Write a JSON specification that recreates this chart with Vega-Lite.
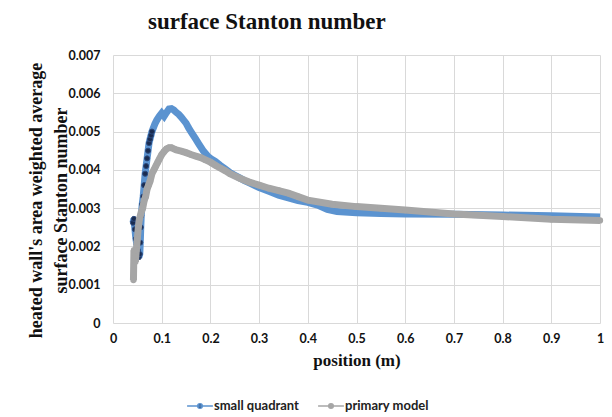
{
  "$schema": "https://vega.github.io/schema/vega-lite/v6.json",
  "autosize": "none",
  "width": 487,
  "height": 268,
  "padding": {"left": 113, "top": 55, "right": 12, "bottom": 94},
  "background": "white",
  "title": {
    "text": "surface Stanton number",
    "font": "Liberation Serif",
    "fontSize": 23,
    "fontWeight": "bold",
    "color": "#111111",
    "anchor": "start",
    "frame": "group",
    "dx": 35,
    "offset": 15
  },
  "config": {
    "view": {"stroke": null},
    "axis": {
      "gridColor": "#d9d9d9",
      "gridWidth": 1,
      "domain": false,
      "ticks": false,
      "labelFont": "Lato",
      "labelFontSize": 12.5,
      "labelFontWeight": "bold",
      "labelColor": "#111111",
      "titleFont": "Liberation Serif",
      "titleFontWeight": "bold",
      "titleColor": "#111111"
    }
  },
  "datasets": {
    "pts": [
      {"series": "small quadrant", "position": 0.041, "st": 0.00262},
      {"series": "small quadrant", "position": 0.043, "st": 0.00272},
      {"series": "small quadrant", "position": 0.045, "st": 0.00245},
      {"series": "small quadrant", "position": 0.047, "st": 0.0022},
      {"series": "small quadrant", "position": 0.049, "st": 0.00205},
      {"series": "small quadrant", "position": 0.051, "st": 0.0019},
      {"series": "small quadrant", "position": 0.053, "st": 0.00172},
      {"series": "small quadrant", "position": 0.055, "st": 0.0018},
      {"series": "small quadrant", "position": 0.056, "st": 0.0021},
      {"series": "small quadrant", "position": 0.057, "st": 0.0025},
      {"series": "small quadrant", "position": 0.058, "st": 0.0028},
      {"series": "small quadrant", "position": 0.06, "st": 0.0031},
      {"series": "small quadrant", "position": 0.062, "st": 0.0033},
      {"series": "small quadrant", "position": 0.064, "st": 0.0036},
      {"series": "small quadrant", "position": 0.066, "st": 0.0039},
      {"series": "small quadrant", "position": 0.068, "st": 0.0041},
      {"series": "small quadrant", "position": 0.07, "st": 0.0043},
      {"series": "small quadrant", "position": 0.072, "st": 0.0045},
      {"series": "small quadrant", "position": 0.074, "st": 0.0047},
      {"series": "small quadrant", "position": 0.076, "st": 0.0048},
      {"series": "small quadrant", "position": 0.078, "st": 0.0049},
      {"series": "small quadrant", "position": 0.08, "st": 0.005},
      {"series": "small quadrant", "position": 0.083, "st": 0.0051},
      {"series": "small quadrant", "position": 0.086, "st": 0.0052},
      {"series": "small quadrant", "position": 0.09, "st": 0.0053},
      {"series": "small quadrant", "position": 0.095, "st": 0.0054},
      {"series": "small quadrant", "position": 0.1, "st": 0.00548},
      {"series": "small quadrant", "position": 0.105, "st": 0.0054},
      {"series": "small quadrant", "position": 0.11, "st": 0.0055},
      {"series": "small quadrant", "position": 0.115, "st": 0.00559},
      {"series": "small quadrant", "position": 0.12, "st": 0.0056},
      {"series": "small quadrant", "position": 0.125, "st": 0.00556},
      {"series": "small quadrant", "position": 0.13, "st": 0.0055},
      {"series": "small quadrant", "position": 0.135, "st": 0.00545},
      {"series": "small quadrant", "position": 0.14, "st": 0.00538},
      {"series": "small quadrant", "position": 0.145, "st": 0.0053},
      {"series": "small quadrant", "position": 0.15, "st": 0.00522},
      {"series": "small quadrant", "position": 0.155, "st": 0.0051},
      {"series": "small quadrant", "position": 0.16, "st": 0.005},
      {"series": "small quadrant", "position": 0.165, "st": 0.0049},
      {"series": "small quadrant", "position": 0.17, "st": 0.0048},
      {"series": "small quadrant", "position": 0.175, "st": 0.0047},
      {"series": "small quadrant", "position": 0.18, "st": 0.0046},
      {"series": "small quadrant", "position": 0.185, "st": 0.0045},
      {"series": "small quadrant", "position": 0.19, "st": 0.00443},
      {"series": "small quadrant", "position": 0.195, "st": 0.00435},
      {"series": "small quadrant", "position": 0.2, "st": 0.0043},
      {"series": "small quadrant", "position": 0.21, "st": 0.00422},
      {"series": "small quadrant", "position": 0.22, "st": 0.00412},
      {"series": "small quadrant", "position": 0.23, "st": 0.00403},
      {"series": "small quadrant", "position": 0.24, "st": 0.00393},
      {"series": "small quadrant", "position": 0.25, "st": 0.00386},
      {"series": "small quadrant", "position": 0.26, "st": 0.00379},
      {"series": "small quadrant", "position": 0.27, "st": 0.00372},
      {"series": "small quadrant", "position": 0.28, "st": 0.00366},
      {"series": "small quadrant", "position": 0.3, "st": 0.00354},
      {"series": "small quadrant", "position": 0.32, "st": 0.00344},
      {"series": "small quadrant", "position": 0.34, "st": 0.00334},
      {"series": "small quadrant", "position": 0.36, "st": 0.00327},
      {"series": "small quadrant", "position": 0.38, "st": 0.0032},
      {"series": "small quadrant", "position": 0.4, "st": 0.00315},
      {"series": "small quadrant", "position": 0.42, "st": 0.00308},
      {"series": "small quadrant", "position": 0.44, "st": 0.00297},
      {"series": "small quadrant", "position": 0.46, "st": 0.00291},
      {"series": "small quadrant", "position": 0.5, "st": 0.00288},
      {"series": "small quadrant", "position": 0.55, "st": 0.00286},
      {"series": "small quadrant", "position": 0.6, "st": 0.00285},
      {"series": "small quadrant", "position": 0.7, "st": 0.00284},
      {"series": "small quadrant", "position": 0.8, "st": 0.00282},
      {"series": "small quadrant", "position": 0.9, "st": 0.0028},
      {"series": "small quadrant", "position": 1.0, "st": 0.00277},
      {"series": "primary model", "position": 0.042, "st": 0.00112},
      {"series": "primary model", "position": 0.043, "st": 0.0019},
      {"series": "primary model", "position": 0.044, "st": 0.0017},
      {"series": "primary model", "position": 0.046, "st": 0.0016},
      {"series": "primary model", "position": 0.048, "st": 0.0019},
      {"series": "primary model", "position": 0.05, "st": 0.0022},
      {"series": "primary model", "position": 0.052, "st": 0.0025},
      {"series": "primary model", "position": 0.054, "st": 0.0027},
      {"series": "primary model", "position": 0.056, "st": 0.0028},
      {"series": "primary model", "position": 0.058, "st": 0.0029},
      {"series": "primary model", "position": 0.061, "st": 0.003},
      {"series": "primary model", "position": 0.064, "st": 0.0032},
      {"series": "primary model", "position": 0.067, "st": 0.0033},
      {"series": "primary model", "position": 0.07, "st": 0.0035},
      {"series": "primary model", "position": 0.073, "st": 0.0036},
      {"series": "primary model", "position": 0.076, "st": 0.0037},
      {"series": "primary model", "position": 0.08, "st": 0.0039},
      {"series": "primary model", "position": 0.084, "st": 0.004},
      {"series": "primary model", "position": 0.088, "st": 0.0041},
      {"series": "primary model", "position": 0.092, "st": 0.0042},
      {"series": "primary model", "position": 0.096, "st": 0.0043},
      {"series": "primary model", "position": 0.1, "st": 0.0044},
      {"series": "primary model", "position": 0.105, "st": 0.00448},
      {"series": "primary model", "position": 0.11, "st": 0.00455},
      {"series": "primary model", "position": 0.115, "st": 0.00458},
      {"series": "primary model", "position": 0.12, "st": 0.00458},
      {"series": "primary model", "position": 0.125, "st": 0.00455},
      {"series": "primary model", "position": 0.13, "st": 0.00452},
      {"series": "primary model", "position": 0.14, "st": 0.00449},
      {"series": "primary model", "position": 0.15, "st": 0.00445},
      {"series": "primary model", "position": 0.16, "st": 0.0044},
      {"series": "primary model", "position": 0.17, "st": 0.00436},
      {"series": "primary model", "position": 0.18, "st": 0.00432},
      {"series": "primary model", "position": 0.19, "st": 0.00426},
      {"series": "primary model", "position": 0.2, "st": 0.0042},
      {"series": "primary model", "position": 0.21, "st": 0.00412},
      {"series": "primary model", "position": 0.22, "st": 0.00405},
      {"series": "primary model", "position": 0.23, "st": 0.00398},
      {"series": "primary model", "position": 0.24, "st": 0.0039},
      {"series": "primary model", "position": 0.26, "st": 0.00378},
      {"series": "primary model", "position": 0.28, "st": 0.00368},
      {"series": "primary model", "position": 0.3, "st": 0.0036},
      {"series": "primary model", "position": 0.32, "st": 0.00352},
      {"series": "primary model", "position": 0.34, "st": 0.00346},
      {"series": "primary model", "position": 0.36, "st": 0.00339},
      {"series": "primary model", "position": 0.38, "st": 0.0033},
      {"series": "primary model", "position": 0.4, "st": 0.00321},
      {"series": "primary model", "position": 0.45, "st": 0.0031},
      {"series": "primary model", "position": 0.5, "st": 0.00304},
      {"series": "primary model", "position": 0.55, "st": 0.003},
      {"series": "primary model", "position": 0.6, "st": 0.00295},
      {"series": "primary model", "position": 0.7, "st": 0.00285},
      {"series": "primary model", "position": 0.8, "st": 0.00278},
      {"series": "primary model", "position": 0.9, "st": 0.00271},
      {"series": "primary model", "position": 1.0, "st": 0.00268}
    ]
  },
  "data": {"name": "pts"},
  "encoding": {
    "x": {
      "field": "position",
      "type": "quantitative",
      "scale": {"domain": [0, 1], "nice": false},
      "axis": {
        "values": [0, 0.1, 0.2, 0.3, 0.4, 0.5, 0.6, 0.7, 0.8, 0.9, 1],
        "format": "~g",
        "labelPadding": 9,
        "labelFlush": false,
        "title": "position (m)",
        "titleFontSize": 17,
        "titlePadding": 8
      }
    },
    "y": {
      "field": "st",
      "type": "quantitative",
      "scale": {"domain": [0, 0.007], "nice": false},
      "axis": {
        "values": [0, 0.001, 0.002, 0.003, 0.004, 0.005, 0.006, 0.007],
        "labelPadding": 13,
        "format": "~g",
        "title": ["heated wall's area weighted average", "surface Stanton number"],
        "titleFontSize": 18,
        "titleLineHeight": 25,
        "titleAngle": -90,
        "titleAlign": "center",
        "titleBaseline": "middle",
        "titleX": -77,
        "titleY": 145
      }
    }
  },
  "layer": [
    {
      "transform": [{"filter": "datum.series === 'small quadrant'"}],
      "mark": {"type": "line", "strokeWidth": 7},
      "encoding": {
        "stroke": {
          "field": "series",
          "type": "nominal",
          "scale": {"domain": ["small quadrant", "primary model"], "range": ["#5b93d0", "#a6a6a6"]},
          "legend": {
            "orient": "none",
            "direction": "horizontal",
            "legendX": 77,
            "legendY": 341,
            "title": null,
            "labelFont": "Lato",
            "labelFontSize": 13,
            "labelFontWeight": "bold",
            "labelColor": "#222222",
            "symbolType": "M-1.4,0H1.4M-0.25,0A0.25,0.25 0 1,1 0.25,0A0.25,0.25 0 1,1 -0.25,0Z",
            "symbolSize": 340,
            "symbolStrokeWidth": 1.5,
            "columnPadding": 16,
            "labelOffset": 4
          }
        }
      }
    },
    {
      "transform": [{"filter": "datum.series === 'small quadrant' && datum.position <= 0.08"}],
      "mark": {"type": "point", "filled": true, "size": 26, "stroke": "#2c4a7e", "strokeWidth": 1, "opacity": 1},
      "encoding": {
        "fill": {
          "field": "series",
          "type": "nominal",
          "scale": {"domain": ["small quadrant", "primary model"], "range": ["#1a2c50", "#a6a6a6"]}
        }
      }
    },
    {
      "transform": [{"filter": "datum.series === 'primary model'"}],
      "mark": {"type": "line", "strokeWidth": 7},
      "encoding": {
        "stroke": {"field": "series", "type": "nominal"}
      }
    },
    {
      "transform": [{"filter": "datum.series === 'primary model'"}],
      "mark": {"type": "point", "filled": true, "size": 40, "opacity": 1},
      "encoding": {
        "fill": {"field": "series", "type": "nominal"}
      }
    }
  ]
}
